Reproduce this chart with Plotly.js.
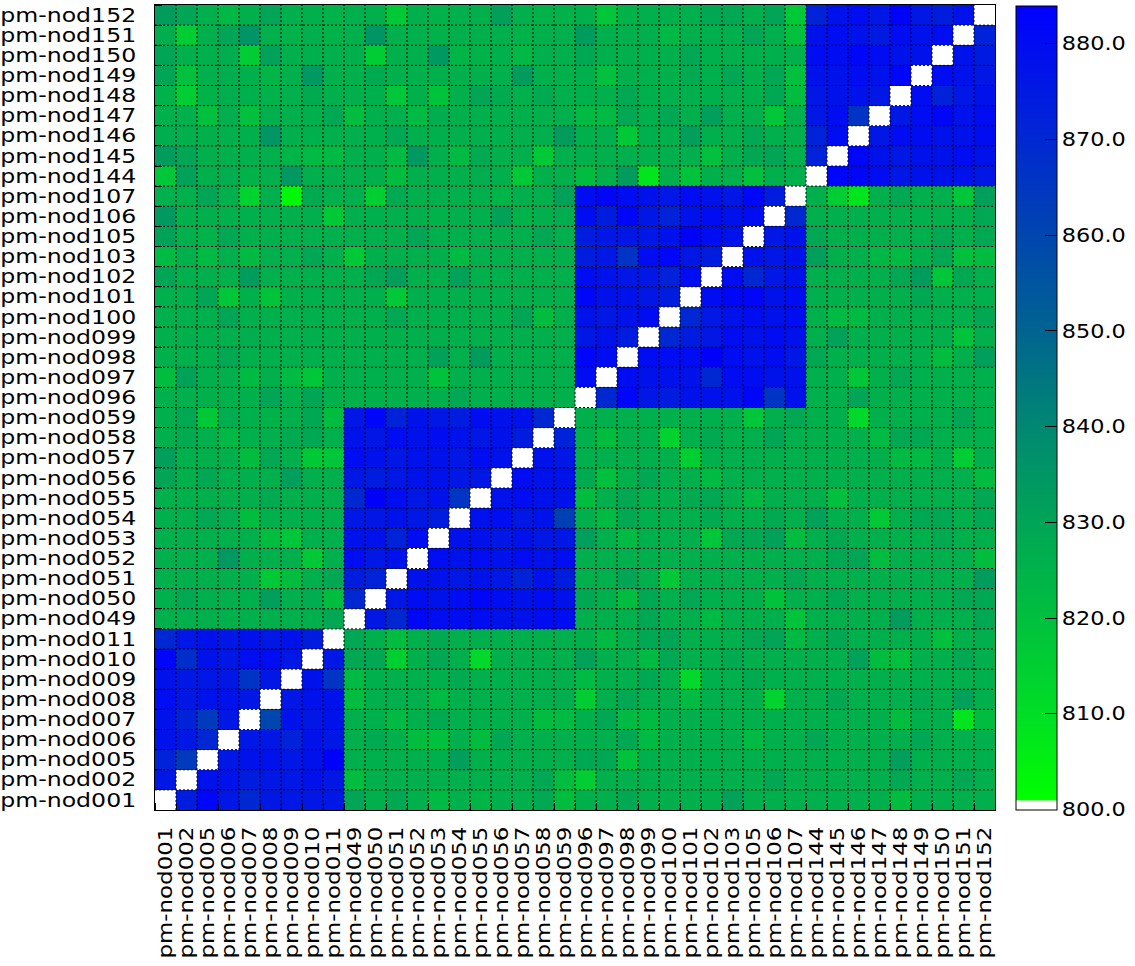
<!DOCTYPE html>
<html>
<head>
<meta charset="utf-8">
<script src="https://cdn.plot.ly/plotly-3.0.1.min.js"></script>
<style>body{margin:0;background:#fff}</style>
</head>
<body>
<div id="grafica" style="width:1135px;height:966px"></div>
<script>
// ---------- Datos ----------
const nodos = [
  "pm-nod001","pm-nod002","pm-nod005","pm-nod006","pm-nod007","pm-nod008","pm-nod009","pm-nod010","pm-nod011",
  "pm-nod049","pm-nod050","pm-nod051","pm-nod052","pm-nod053","pm-nod054","pm-nod055","pm-nod056","pm-nod057","pm-nod058","pm-nod059",
  "pm-nod096","pm-nod097","pm-nod098","pm-nod099","pm-nod100","pm-nod101","pm-nod102","pm-nod103","pm-nod105","pm-nod106","pm-nod107",
  "pm-nod144","pm-nod145","pm-nod146","pm-nod147","pm-nod148","pm-nod149","pm-nod150","pm-nod151","pm-nod152"
];

// filas de abajo (pm-nod001) hacia arriba (pm-nod152)
const r001 = [800,874,882,876,870,876,876,876,876, 830,826,829,826,822,826,824,826,826,829,821, 826,826,829,826,826,826,826,831,826,826,826, 826,826,826,826,821,826,826,826,826];
const r002 = [876,800,878,878,874,876,876,878,876, 821,826,826,826,826,826,826,826,826,829,821, 816,826,826,826,826,826,826,826,826,829,826, 826,826,826,826,829,826,826,829,826];
const r005 = [872,864,800,876,878,878,876,878,884, 826,826,826,826,826,832,826,826,826,826,826, 829,829,819,826,826,826,826,826,826,826,826, 826,826,826,826,832,826,826,826,826];
const r006 = [878,876,870,800,876,876,872,878,876, 826,828,826,821,820,826,821,829,826,826,826, 826,826,829,822,826,826,826,826,822,826,826, 829,826,826,826,826,829,826,826,826];
const r007 = [878,872,864,876,800,860,878,876,878, 826,826,822,826,828,826,826,826,826,821,822, 826,829,822,822,826,826,826,826,826,826,826, 826,826,826,826,821,826,826,808,821];
const r008 = [880,876,878,878,876,800,876,878,878, 821,826,826,826,822,826,826,826,826,826,827, 816,826,829,826,826,822,826,826,826,814,826, 826,829,826,826,826,828,826,831,826];
const r009 = [878,876,876,876,866,876,800,878,866, 822,826,826,826,826,828,826,826,826,826,826, 822,826,826,829,826,812,826,826,828,826,826, 826,826,826,826,826,826,826,826,826];
const r010 = [882,868,878,876,880,880,876,800,876, 829,829,815,826,829,826,812,826,826,826,826, 831,826,826,822,829,826,826,828,826,826,826, 826,826,831,821,820,826,826,829,826];
const r011 = [870,876,878,876,878,876,878,874,800, 829,826,821,826,828,826,826,826,826,826,826, 826,822,826,829,830,826,826,826,829,830,822, 826,829,826,826,826,826,820,826,826];
const r049 = [826,826,826,826,826,826,826,826,829, 800,876,870,882,880,880,880,878,878,880,880, 826,826,826,829,826,826,822,826,826,826,819, 826,826,826,826,833,826,826,826,829];
const r050 = [826,829,826,826,826,832,826,827,821, 870,800,876,880,878,880,882,880,878,880,878, 829,826,821,829,826,829,826,826,826,819,826, 826,829,826,826,826,826,826,829,829];
const r051 = [826,826,826,826,826,817,821,826,829, 874,872,800,878,878,876,878,876,872,878,874, 826,826,830,826,817,826,826,826,826,826,829, 826,826,826,826,826,826,826,826,833];
const r052 = [826,826,826,834,826,826,826,817,826, 880,876,878,800,880,878,880,878,880,878,880, 826,826,826,826,826,826,826,826,826,826,826, 826,829,830,821,826,826,826,826,821];
const r053 = [826,826,826,826,826,821,818,826,826, 878,878,872,880,800,878,878,876,878,876,876, 832,826,822,826,826,826,818,829,829,831,821, 826,829,826,826,826,826,828,826,826];
const r054 = [826,826,829,827,821,826,826,826,826, 876,876,878,876,874,800,878,880,876,878,862, 826,822,829,826,826,826,828,826,826,828,826, 831,826,826,817,826,829,829,826,829];
const r055 = [826,826,826,826,826,828,826,826,826, 870,884,880,876,878,866,800,878,880,878,878, 821,826,829,826,826,828,829,826,822,826,826, 826,820,826,826,826,826,826,826,829];
const r056 = [830,826,829,826,826,826,832,826,826, 876,874,876,878,878,876,876,800,880,878,878, 828,820,826,829,826,826,822,826,826,826,826, 826,826,826,826,826,826,826,826,821];
const r057 = [832,826,826,826,821,829,826,817,818, 880,878,876,878,878,876,880,878,800,878,876, 826,826,826,826,826,815,826,826,826,826,826, 826,826,826,826,822,822,826,816,826];
const r058 = [826,828,826,823,826,826,828,829,826, 878,876,880,878,880,878,876,878,874,800,872, 826,821,826,826,814,826,828,826,826,830,826, 826,826,826,822,829,829,826,826,826];
const r059 = [826,829,817,827,826,825,826,829,821, 876,882,872,878,876,874,880,878,878,870,800, 826,826,826,826,826,826,826,826,818,826,829, 826,826,812,826,826,826,826,830,826];
const r096 = [826,826,826,826,826,830,826,830,826, 826,826,826,826,826,829,826,826,826,826,826, 800,870,882,876,874,878,878,878,882,866,878, 826,826,830,826,826,826,826,826,826];
const r097 = [821,831,826,826,822,826,822,818,826, 826,826,826,826,819,826,826,826,826,826,826, 880,800,880,878,878,878,870,880,880,878,878, 826,826,818,826,829,826,826,826,826];
const r098 = [826,826,826,829,826,826,826,826,826, 826,826,826,826,831,826,833,826,826,826,826, 882,880,800,880,880,880,884,880,878,880,876, 829,826,826,826,826,826,821,826,832];
const r099 = [826,826,826,826,827,826,826,826,826, 826,826,826,826,826,826,826,826,826,826,826, 876,878,874,800,870,874,876,880,878,880,878, 826,831,826,826,826,826,826,819,826];
const r100 = [826,826,826,830,826,826,826,826,826, 826,826,829,826,826,826,826,826,830,821,826, 878,876,878,880,800,870,876,878,880,878,880, 826,822,822,826,826,826,826,826,829];
const r101 = [826,826,830,818,826,819,826,826,826, 826,826,817,826,826,826,826,826,826,826,826, 882,878,878,876,874,800,880,882,882,878,880, 826,826,826,826,826,829,826,826,826];
const r102 = [830,826,826,826,833,826,826,826,826, 826,829,832,826,826,831,826,826,826,826,826, 880,878,876,876,872,880,800,880,870,876,878, 826,826,826,826,829,833,818,829,826];
const r103 = [822,826,822,826,822,826,826,829,826, 817,826,826,826,826,822,826,826,826,826,826, 874,876,866,880,882,876,874,800,878,876,878, 832,826,826,823,822,826,829,820,821];
const r105 = [831,826,825,829,826,826,826,826,826, 826,826,826,830,826,826,826,826,826,829,826, 874,876,876,876,878,884,880,878,800,876,878, 829,826,826,826,826,826,829,826,829];
const r106 = [834,826,826,826,826,826,826,826,817, 826,826,826,826,825,826,826,831,825,826,827, 880,874,882,876,872,878,880,878,880,800,870, 826,826,826,826,826,826,826,826,829];
const r107 = [826,826,830,826,814,826,803,828,826, 826,815,828,826,826,826,826,824,826,826,831, 880,882,880,878,876,880,878,876,882,874,800, 826,816,808,826,829,826,826,818,832];
const r144 = [818,831,826,827,825,826,834,826,826, 826,826,821,826,826,826,827,826,817,826,826, 821,826,833,808,826,819,826,826,820,826,826, 800,882,882,880,876,878,878,878,876];
const r145 = [833,830,826,826,826,826,824,822,822, 826,826,822,834,826,822,828,826,826,817,826, 826,826,826,826,826,826,820,826,829,830,826, 872,800,882,878,876,878,878,880,878];
const r146 = [827,826,826,826,826,835,826,826,826, 826,826,829,826,826,826,826,826,826,826,833, 826,826,817,826,826,832,826,826,829,826,826, 872,880,800,876,880,880,878,878,880];
const r147 = [826,826,820,827,820,826,826,826,829, 821,826,826,822,827,826,826,826,826,826,826, 822,822,829,826,829,826,832,826,826,818,826, 876,880,866,800,876,880,882,878,880];
const r148 = [825,816,825,827,826,825,826,828,826, 826,826,818,826,819,826,830,828,826,828,826, 826,826,829,826,826,826,826,826,826,829,821, 876,878,878,876,800,880,872,876,878];
const r149 = [830,820,826,827,826,824,826,834,826, 826,828,826,826,826,826,826,826,833,826,826, 826,820,826,826,826,828,826,829,826,829,820, 878,878,880,878,882,800,880,878,876];
const r150 = [830,826,826,827,816,831,826,826,826, 826,816,826,826,834,824,825,826,823,826,826, 829,826,826,826,826,829,826,826,826,826,826, 880,880,882,880,878,878,800,878,875];
const r151 = [827,816,826,830,836,826,825,826,825, 826,835,826,826,825,826,826,826,825,826,826, 833,826,826,826,823,826,826,826,830,826,820, 878,880,878,875,880,878,880,800,872];
const r152 = [833,830,826,823,826,830,826,826,825, 826,826,817,826,825,826,826,832,826,825,825, 826,818,825,826,826,826,829,829,826,830,817, 872,878,880,876,883,876,874,878,800];

const matriz = [r001,r002,r005,r006,r007,r008,r009,r010,r011,
  r049,r050,r051,r052,r053,r054,r055,r056,r057,r058,r059,
  r096,r097,r098,r099,r100,r101,r102,r103,r105,r106,r107,
  r144,r145,r146,r147,r148,r149,r150,r151,r152];

const escalaTicks = [800,810,820,830,840,850,860,870,880];
const zMin = 800, zMax = 884;

// ---------- Paleta ----------
const paleta = [
  [0, "rgb(255,255,255)"],
  [0.011, "rgb(255,255,255)"],
  [0.013, "rgb(0,255,0)"],
  [0.119, "rgb(0,222,38)"],
  [0.238, "rgb(0,192,62)"],
  [0.357, "rgb(0,165,86)"],
  [0.476, "rgb(0,136,114)"],
  [0.595, "rgb(0,100,145)"],
  [0.714, "rgb(0,70,175)"],
  [0.833, "rgb(0,40,210)"],
  [0.952, "rgb(0,12,242)"],
  [1, "rgb(0,0,255)"]
];

const idx = nodos.map((_, i) => i);

// ---------- Rejilla punteada ----------
let rejilla = [];
for (let i = 0; i < nodos.length - 1; i++) {
  rejilla.push({type:"line", xref:"x", yref:"paper", x0:i+0.5, x1:i+0.5, y0:0, y1:1,
    line:{color:"black", width:1, dash:"2px,2px"}, layer:"above"});
  rejilla.push({type:"line", xref:"paper", yref:"y", x0:0, x1:1, y0:i+0.5, y1:i+0.5,
    line:{color:"black", width:1, dash:"2px,2px"}, layer:"above"});
}

const fuente = {family:"DejaVu Sans", size:19, color:"black"};

const mapa = {
  type:"heatmap",
  x: idx,
  y: idx,
  z: matriz,
  zmin: zMin,
  zmax: zMax,
  colorscale: paleta,
  hoverinfo: "skip",
  colorbar: {
    x: 1.025, xanchor:"left", xpad:0,
    y: 0.5, yanchor:"middle", ypad:0,
    lenmode:"pixels", len:804,
    thickness:41,
    outlinecolor:"black", outlinewidth:1,
    tickvals: escalaTicks,
    tickformat: ".1f",
    ticks:"inside", ticklen:12, tickcolor:"black",
    tickfont: fuente
  }
};

const ejeComun = {
  range:[-0.5, 39.5],
  tickvals: idx,
  ticktext: nodos,
  ticks:"",
  showgrid:false,
  zeroline:false,
  showline:true,
  linecolor:"black",
  linewidth:1,
  mirror:true,
  automargin:false,
  tickfont: fuente,
  layer:"above traces",
  minor:{tick0:0.5, dtick:1, ticks:"inside", ticklen:7, tickcolor:"black", showgrid:false}
};

const layout = {
  width:1135,
  height:966,
  margin:{l:155, r:140, t:5, b:156},
  paper_bgcolor:"white",
  plot_bgcolor:"white",
  xaxis: Object.assign({}, ejeComun, {tickangle:-90, ticklabelstandoff:8}),
  yaxis: Object.assign({}, ejeComun, {ticklabelstandoff:14}),
  shapes: rejilla,
  showlegend:false
};

Plotly.newPlot("grafica", [mapa], layout, {staticPlot:true}).then(gd => {
  // el original tiene la letra ensanchada
  gd.querySelectorAll(".yaxislayer-above .ytick text").forEach(t => {
    t.setAttribute("textLength", 136);
    t.setAttribute("lengthAdjust", "spacingAndGlyphs");
  });
  gd.querySelectorAll(".xaxislayer-above .xtick text").forEach(t => {
    t.setAttribute("textLength", 132);
    t.setAttribute("lengthAdjust", "spacingAndGlyphs");
  });
  gd.querySelectorAll(".colorbar text").forEach(t => {
    if (/^\d+\.\d$/.test(t.textContent)) {
      t.setAttribute("textLength", 64);
      t.setAttribute("lengthAdjust", "spacingAndGlyphs");
    }
  });
});
</script>
</body>
</html>
